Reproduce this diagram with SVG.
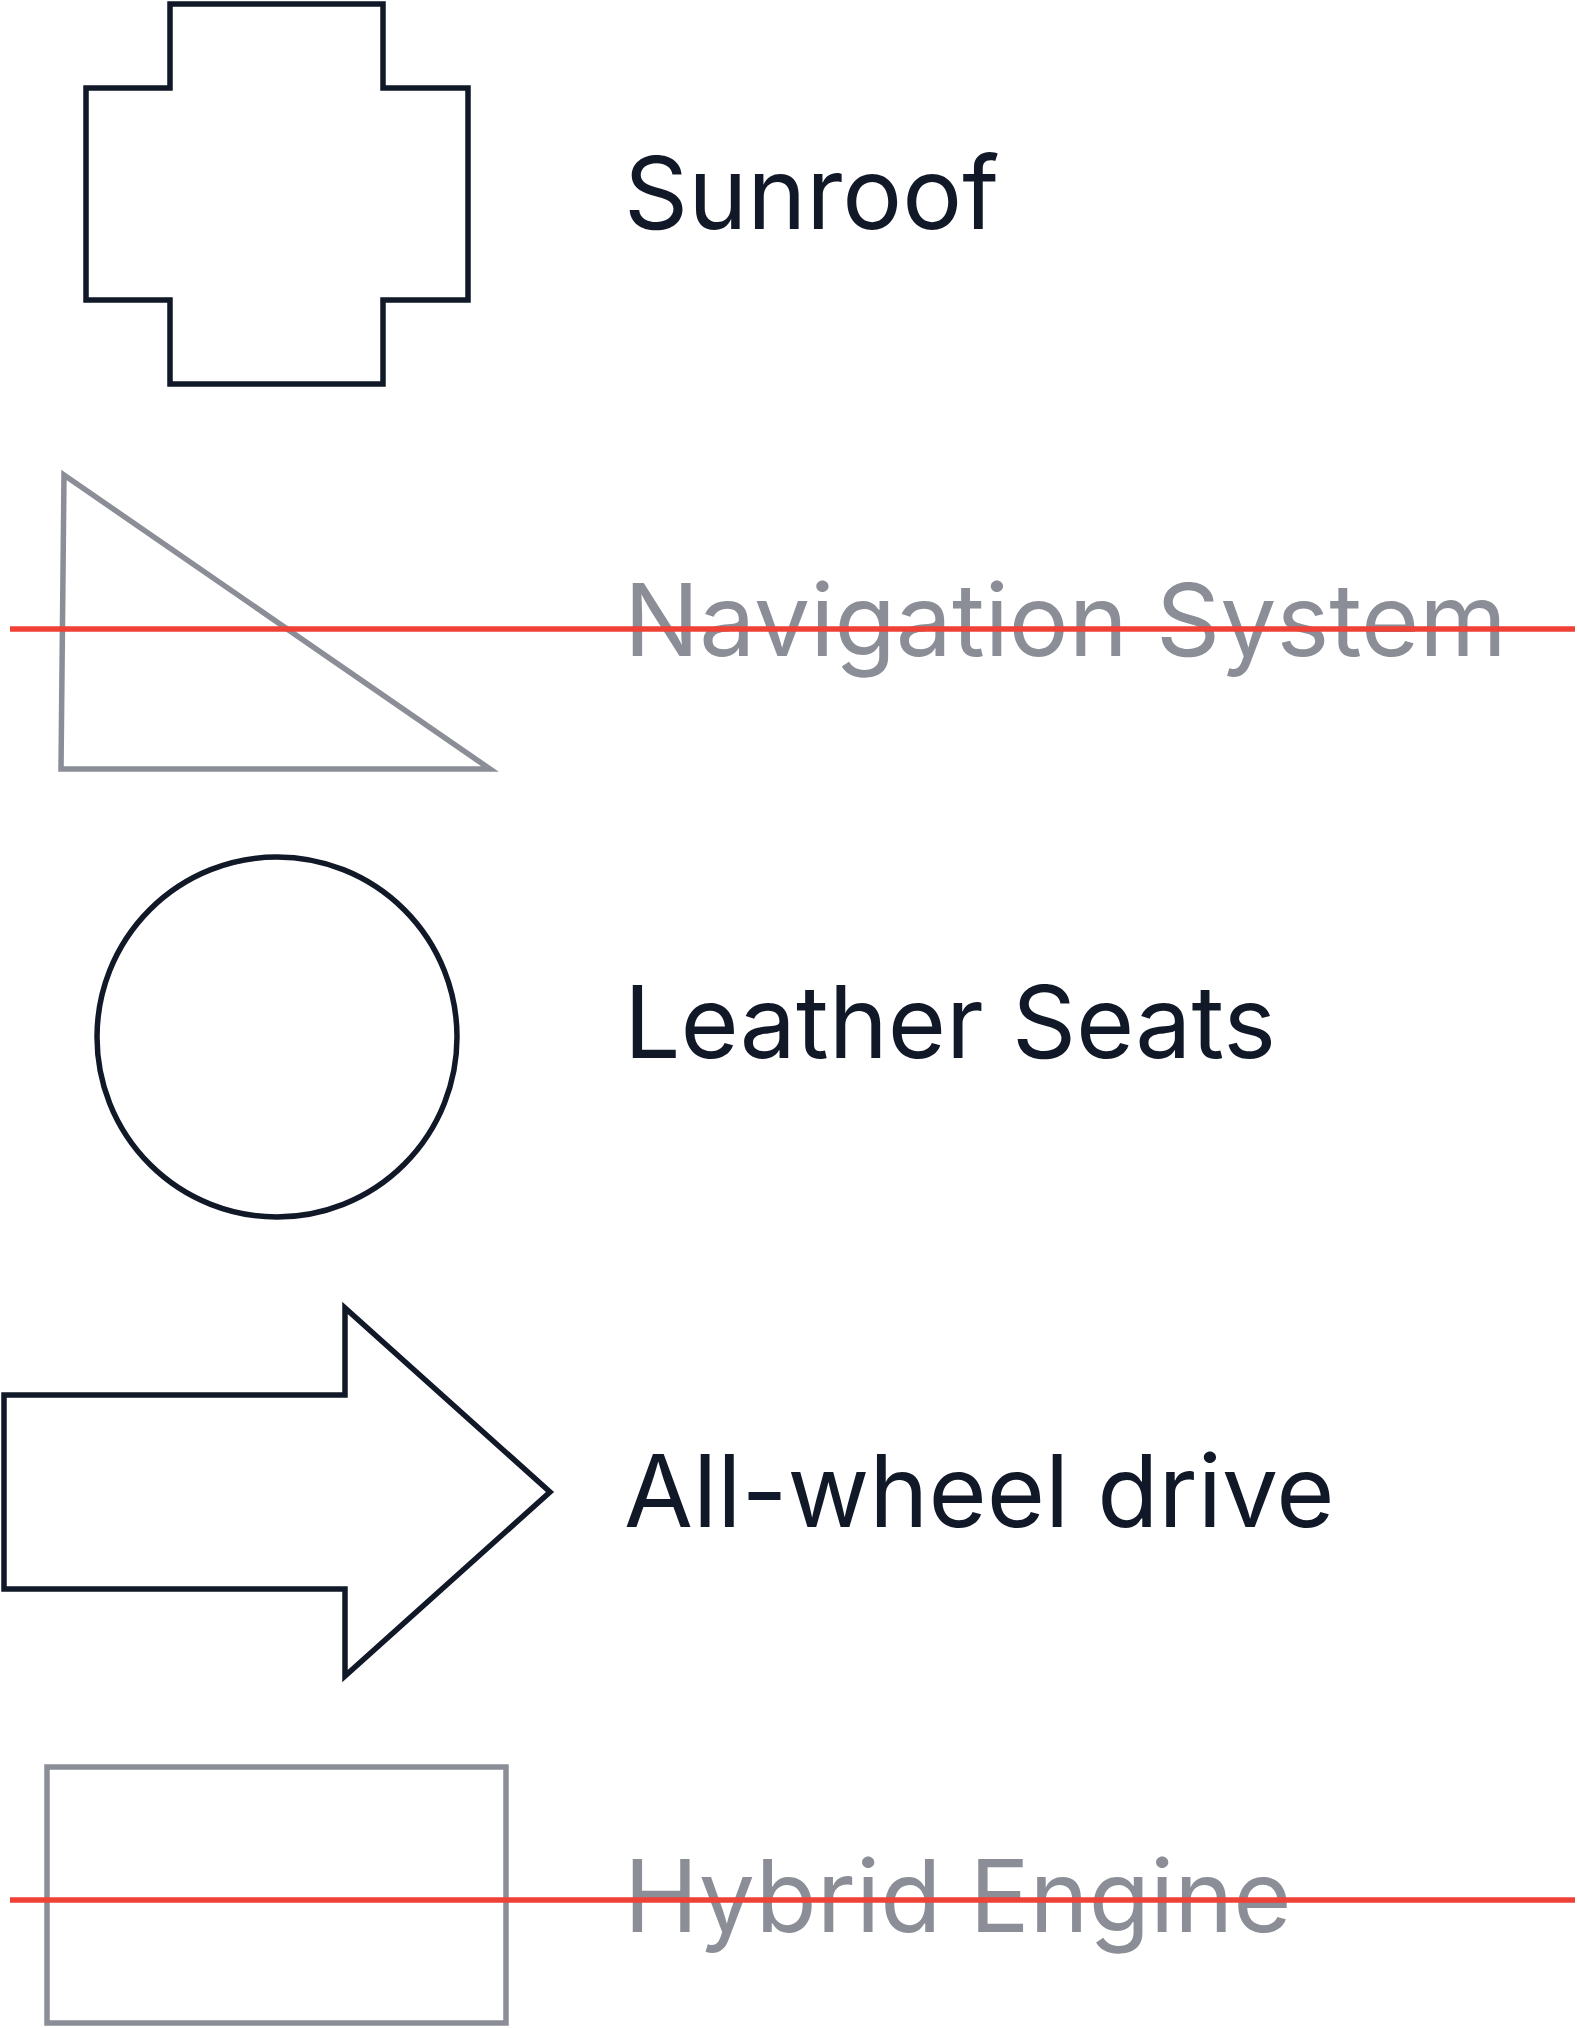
<svg xmlns="http://www.w3.org/2000/svg" width="1577" height="2028" viewBox="0 0 1577 2028">
<style>
.dark{fill:none;stroke:#111827;stroke-width:5.5}
.grey{fill:none;stroke:#8b8e96;stroke-width:5.5}
.lbl{font-family:Inter,"Noto Sans",sans-serif;font-size:100px}
.ld{fill:#111827}
.lg{fill:#8b8e96}
.strike{stroke:#ef4136;stroke-width:5.5}
</style>
<rect width="1577" height="2028" fill="#ffffff"/>
<g id="sunroof">
<polygon class="dark" points="170,4 383,4 383,88 468,88 468,300 383,300 383,384 170,384 170,300 86,300 86,88 170,88"/>
<text class="lbl ld" x="624" y="229">Sunroof</text>
</g>
<g id="navigation">
<polygon class="grey" points="64,475 490,769 61,769"/>
<text class="lbl lg" x="624" y="656">Navigation System</text>
<line class="strike" x1="10" y1="629" x2="1575" y2="629"/>
</g>
<g id="leather">
<circle class="dark" cx="277" cy="1037" r="180"/>
<text class="lbl ld" x="624" y="1058">Leather Seats</text>
</g>
<g id="awd">
<polygon class="dark" points="4,1395 345,1395 345,1308 550,1492 345,1676 345,1589 4,1589"/>
<text class="lbl ld" x="624" y="1527">All-wheel drive</text>
</g>
<g id="hybrid">
<rect class="grey" x="47" y="1767" width="459" height="256"/>
<text class="lbl lg" x="624" y="1932">Hybrid Engine</text>
<line class="strike" x1="10" y1="1900" x2="1575" y2="1900"/>
</g>
<g id="connectors"/>
</svg>
